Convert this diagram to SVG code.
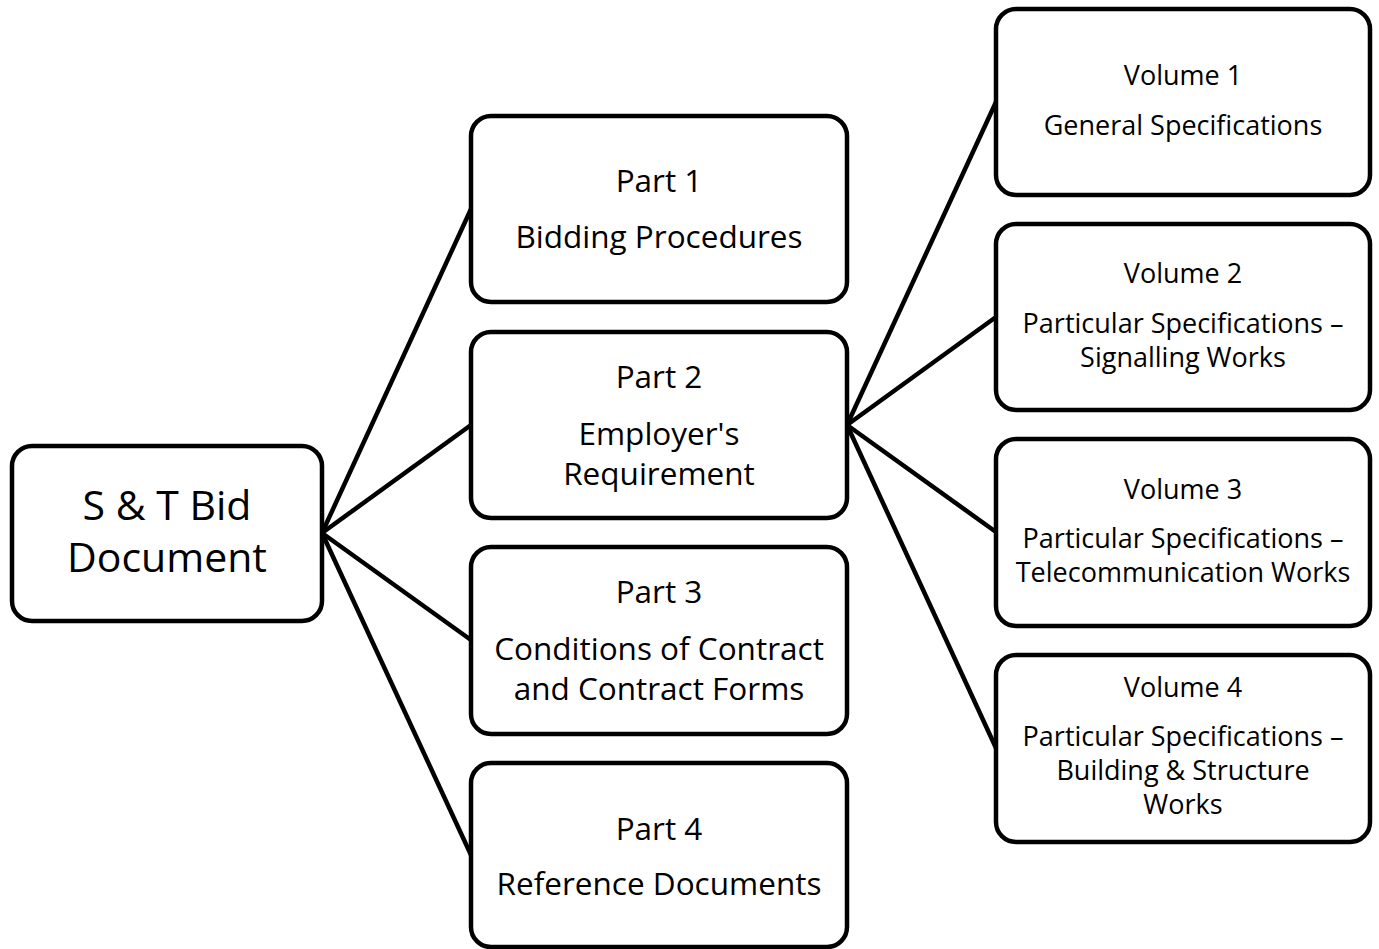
<svg xmlns="http://www.w3.org/2000/svg" width="1379" height="949" viewBox="0 0 1379 949">
  <style>
    .box { fill: #ffffff; stroke: #000000; stroke-width: 4.5; }
    .link { stroke: #000000; stroke-width: 4.5; fill: none; }
    text { font-family: "Open Sans", Lato, sans-serif; fill: #000000; text-anchor: middle; }
    .root { font-size: 41px; }
    .part { font-size: 31.5px; }
    .vol { font-size: 27px; }
  </style>
  <rect width="1379" height="949" fill="#ffffff"/>

  <!-- connectors -->
  <g id="connectors">
    <line class="link" x1="322" y1="533" x2="471" y2="209"/>
    <line class="link" x1="322" y1="533" x2="471" y2="425"/>
    <line class="link" x1="322" y1="533" x2="471" y2="640"/>
    <line class="link" x1="322" y1="533" x2="471" y2="855"/>
    <line class="link" x1="847" y1="425" x2="996" y2="102"/>
    <line class="link" x1="847" y1="425" x2="996" y2="317"/>
    <line class="link" x1="847" y1="425" x2="996" y2="532"/>
    <line class="link" x1="847" y1="425" x2="996" y2="748"/>
  </g>

  <!-- root -->
  <g id="root">
    <rect class="box" x="12" y="446" width="310" height="175" rx="20"/>
    <text class="root" x="167" y="520">S &amp; T Bid</text>
    <text class="root" x="167" y="572">Document</text>
  </g>

  <!-- parts -->
  <g id="part1">
    <rect class="box" x="471" y="116" width="376" height="186" rx="20"/>
    <text class="part" x="659" y="192">Part 1</text>
    <text class="part" x="659" y="248">Bidding Procedures</text>
  </g>
  <g id="part2">
    <rect class="box" x="471" y="332" width="376" height="186" rx="20"/>
    <text class="part" x="659" y="388">Part 2</text>
    <text class="part" x="659" y="445">Employer's</text>
    <text class="part" x="659" y="485">Requirement</text>
  </g>
  <g id="part3">
    <rect class="box" x="471" y="547" width="376" height="187" rx="20"/>
    <text class="part" x="659" y="603">Part 3</text>
    <text class="part" x="659" y="660">Conditions of Contract</text>
    <text class="part" x="659" y="700">and Contract Forms</text>
  </g>
  <g id="part4">
    <rect class="box" x="471" y="763" width="376" height="184" rx="20"/>
    <text class="part" x="659" y="840">Part 4</text>
    <text class="part" x="659" y="895">Reference Documents</text>
  </g>

  <!-- volumes -->
  <g id="volume1">
    <rect class="box" x="996" y="9" width="374" height="186" rx="20"/>
    <text class="vol" x="1183" y="85">Volume 1</text>
    <text class="vol" x="1183" y="135">General Specifications</text>
  </g>
  <g id="volume2">
    <rect class="box" x="996" y="224" width="374" height="186" rx="20"/>
    <text class="vol" x="1183" y="283">Volume 2</text>
    <text class="vol" x="1183" y="333">Particular Specifications –</text>
    <text class="vol" x="1183" y="367">Signalling Works</text>
  </g>
  <g id="volume3">
    <rect class="box" x="996" y="439" width="374" height="187" rx="20"/>
    <text class="vol" x="1183" y="499">Volume 3</text>
    <text class="vol" x="1183" y="548">Particular Specifications –</text>
    <text class="vol" x="1183" y="582">Telecommunication Works</text>
  </g>
  <g id="volume4">
    <rect class="box" x="996" y="655" width="374" height="187" rx="20"/>
    <text class="vol" x="1183" y="697">Volume 4</text>
    <text class="vol" x="1183" y="746">Particular Specifications –</text>
    <text class="vol" x="1183" y="780">Building &amp; Structure</text>
    <text class="vol" x="1183" y="814">Works</text>
  </g>
</svg>
